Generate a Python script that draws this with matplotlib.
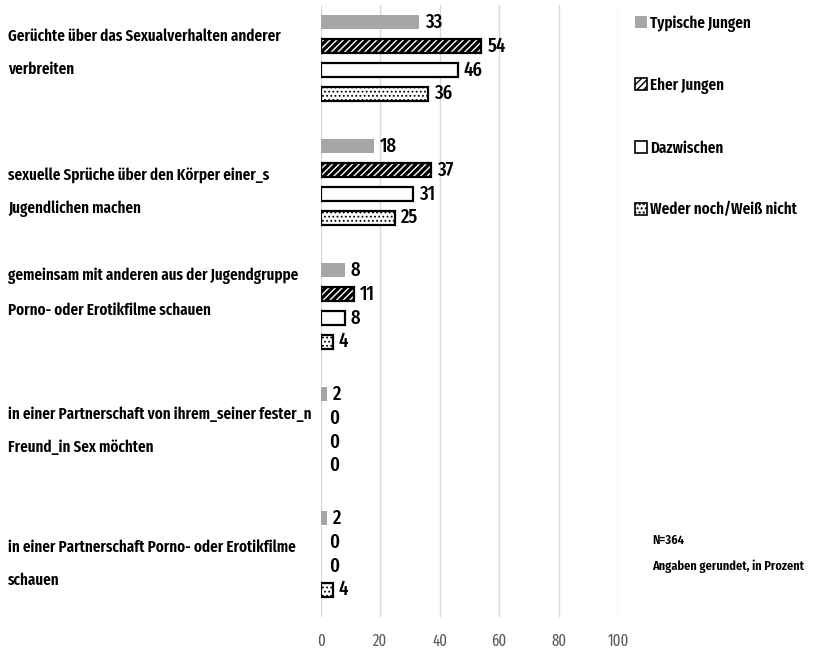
import numpy as np
import matplotlib
matplotlib.use("Agg")
import matplotlib.pyplot as plt
import matplotlib.transforms as mtransforms
from matplotlib.patches import Patch

# Data ---------------------------------------------------------------
categories = [
    "Gerüchte über das Sexualverhalten anderer\nverbreiten",
    "sexuelle Sprüche über den Körper einer_s\nJugendlichen machen",
    "gemeinsam mit anderen aus der Jugendgruppe\nPorno- oder Erotikfilme schauen",
    "in einer Partnerschaft von ihrem_seiner fester_n\nFreund_in Sex möchten",
    "in einer Partnerschaft Porno- oder Erotikfilme\nschauen",
]
series_names = ["Typische Jungen", "Eher Jungen", "Dazwischen", "Weder noch/Weiß nicht"]
typische_jungen = [33, 18, 8, 2, 2]
eher_jungen = [54, 37, 11, 0, 0]
dazwischen = [46, 31, 8, 0, 0]
weder_noch = [36, 25, 4, 0, 4]
x_ticks = [0, 20, 40, 60, 80, 100]

series = [typische_jungen, eher_jungen, dazwischen, weder_noch]
styles = [
    dict(facecolor="#a6a6a6", edgecolor="#a6a6a6", hatch=None),
    dict(facecolor="white", edgecolor="black", hatch="/////"),
    dict(facecolor="white", edgecolor="black", hatch=None),
    dict(facecolor="white", edgecolor="black", hatch="...."),
]
hatch_lw = [1.0, 2.4, 1.0, 0.8]
# small vertical nudges (px) of the category labels, as in the original
label_nudge_px = [-5, 10, -13, 1, 10]

FONT = ["Fira Sans Extra Condensed", "DejaVu Sans"]
plt.rcParams["font.family"] = FONT

fig = plt.figure(figsize=(8.16, 6.58), dpi=100)
ax = fig.add_axes([321 / 816, 1 - 617 / 658, (618 - 321) / 816, 612 / 658])

y = np.arange(len(categories))
step = 0.192
height = 0.115
offsets = [-1.5 * step, -0.5 * step, 0.5 * step, 1.5 * step]

for i, (vals, st) in enumerate(zip(series, styles)):
    lws = [1.6 if (v > 0 and i > 0) else 0 for v in vals]
    bars = ax.barh(y + offsets[i], vals, height=height, facecolor=st["facecolor"],
                   edgecolor=st["edgecolor"], hatch=st["hatch"], linewidth=lws, zorder=3)
    for b in bars:
        try:
            b.set_hatch_linewidth(hatch_lw[i])
        except AttributeError:
            pass
    for yy, v in zip(y + offsets[i], vals):
        ax.text(v + 2.0 if v > 0 else 2.6, yy, str(v), va="center", ha="left",
                fontsize=14.5, fontweight=500, color="black", zorder=4)

ax.set_xlim(0, 100)
ax.set_ylim(4.508, -0.427)
ax.set_xticks(x_ticks)
ax.set_xticklabels([str(t) for t in x_ticks], fontsize=11.5, color="#595959")
ax.tick_params(axis="x", length=0, pad=12)
ax.set_yticks([])
ax.grid(axis="x", color="#d9d9d9", linewidth=1, zorder=0)
for s in ax.spines.values():
    s.set_visible(False)

# category labels, left aligned at the figure edge
label_tr = mtransforms.blended_transform_factory(fig.transFigure, ax.transData)
for yy, lab, dpx in zip(y, categories, label_nudge_px):
    t = ax.text(8 / 816, yy, lab, va="center", ha="left",
                fontsize=11.8, fontweight=600, linespacing=2.4)
    t.set_transform(label_tr + mtransforms.ScaledTranslation(0, -dpx / 100, fig.dpi_scale_trans))

# legend
handles = []
for i, st in enumerate(styles):
    handles.append(Patch(facecolor=st["facecolor"], edgecolor=st["edgecolor"],
                         hatch=st["hatch"], linewidth=1.2 if i > 0 else 0,
                         label=series_names[i]))
fig.legend(handles=handles, loc="upper left", bbox_to_anchor=(635 / 816, 1 - 15 / 658),
           frameon=False, borderpad=0, borderaxespad=0, handlelength=0.75,
           handleheight=0.75, handletextpad=0.15, labelspacing=2.8,
           prop=dict(family=FONT, weight=600, size=11.8))

fig.text(652 / 816, 1 - 540 / 658, "N=364", fontsize=9.7, fontweight=600, va="center")
fig.text(652 / 816, 1 - 566 / 658, "Angaben gerundet, in Prozent", fontsize=9.7,
         fontweight=600, va="center")

fig.savefig("out.png", dpi=100)
